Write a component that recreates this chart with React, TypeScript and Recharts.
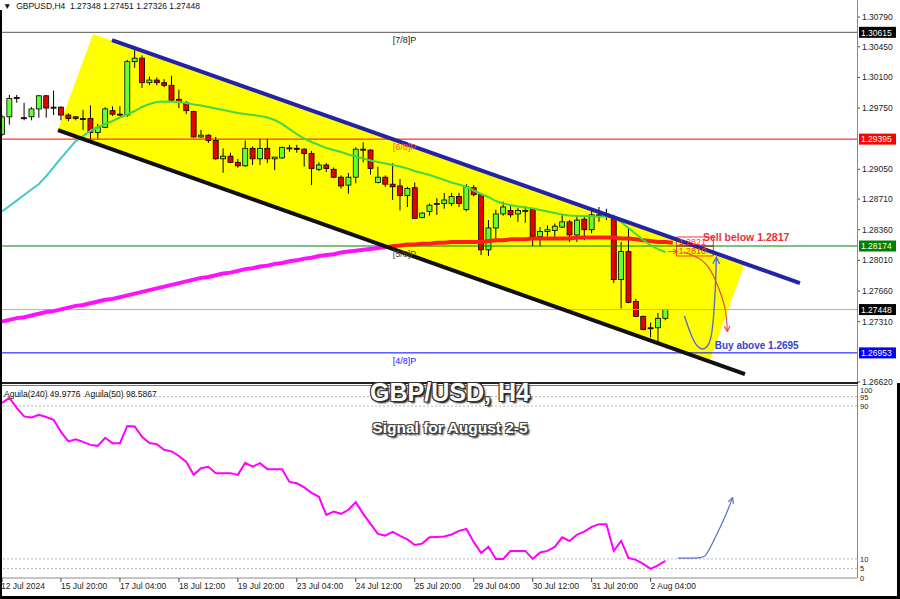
import React from "react";
import {
  Area,
  Bar,
  ComposedChart,
  Line,
  ReferenceArea,
  ReferenceDot,
  ReferenceLine,
  XAxis,
  YAxis,
} from "recharts";

// GBPUSD H4 bars, index 0 = 12 Jul 12:00 ... index 90 = 2 Aug 12:00
const opens = [
  1.2945, 1.2965, 1.2987, 1.2964, 1.2965, 1.2974, 1.2989, 1.2976, 1.2976, 1.2967,
  1.2965, 1.2963, 1.2963, 1.2947, 1.2953, 1.2972, 1.2968, 1.2967, 1.3028, 1.3032,
  1.3004, 1.3007, 1.3004, 1.3001, 1.2985, 1.2981, 1.2971, 1.2942, 1.2944, 1.2938,
  1.2917, 1.292, 1.2913, 1.2909, 1.2929, 1.2917, 1.2929, 1.2917, 1.2918, 1.2929,
  1.2929, 1.2928, 1.2923, 1.2905, 1.291, 1.2905, 1.2896, 1.2887, 1.2896, 1.2928,
  1.2927, 1.289, 1.2896, 1.2888, 1.2886, 1.2875, 1.2884, 1.285, 1.2857, 1.2866,
  1.2866, 1.2866, 1.2874, 1.2859, 1.2884, 1.2876, 1.2813, 1.2838, 1.2854, 1.2858,
  1.2854, 1.2858, 1.2859, 1.2828, 1.2834, 1.2835, 1.2839, 1.2845, 1.283, 1.2848,
  1.2836, 1.2853, 1.2853, 1.2849, 1.2779, 1.2811, 1.2754, 1.2737, 1.2724, 1.2724,
  1.27348,
];
const highs = [
  1.2967, 1.299, 1.299, 1.2981, 1.2976, 1.299, 1.299, 1.2995, 1.2977, 1.2969,
  1.2966, 1.2973, 1.2978, 1.2957, 1.2976, 1.2977, 1.2977, 1.303, 1.3041, 1.3035,
  1.3011, 1.301, 1.3008, 1.3012, 1.2996, 1.2983, 1.2972, 1.295, 1.2945, 1.2942,
  1.2929, 1.2924, 1.2917, 1.2938, 1.2931, 1.294, 1.294, 1.2919, 1.2931, 1.2933,
  1.2933, 1.2929, 1.2926, 1.2913, 1.2912, 1.2907, 1.2898, 1.2901, 1.293, 1.2936,
  1.2928, 1.2908, 1.2898, 1.2912, 1.2894, 1.2885, 1.289, 1.2856, 1.2866, 1.2872,
  1.2878, 1.2878, 1.2878, 1.2888, 1.2887, 1.2878, 1.2847, 1.2859, 1.2868, 1.2865,
  1.2861, 1.2863, 1.2861, 1.2839, 1.2841, 1.2843, 1.2853, 1.2847, 1.2853, 1.2851,
  1.286, 1.2862, 1.286, 1.2853, 1.2822, 1.2839, 1.2757, 1.2738, 1.273, 1.2741,
  1.27451,
];
const lows = [
  1.2943, 1.2956, 1.2981, 1.2961, 1.2961, 1.2964, 1.2964, 1.2967, 1.2961, 1.296,
  1.2961, 1.295, 1.2939, 1.294, 1.2952, 1.2966, 1.2966, 1.2965, 1.3021, 1.2998,
  1.3001, 1.3001, 1.2999, 1.2982, 1.2975, 1.2968, 1.2941, 1.2941, 1.2935, 1.2916,
  1.2901, 1.2912, 1.2907, 1.2908, 1.291, 1.291, 1.2912, 1.2904, 1.2917, 1.2925,
  1.2924, 1.2908, 1.2887, 1.2903, 1.2902, 1.2895, 1.2883, 1.2877, 1.2889, 1.2913,
  1.2899, 1.2889, 1.2885, 1.287, 1.2858, 1.2862, 1.2849, 1.2849, 1.2852, 1.2853,
  1.286, 1.2863, 1.2862, 1.2857, 1.2874, 1.2807, 1.2806, 1.2824, 1.2852, 1.285,
  1.2845, 1.2844, 1.2817, 1.2817, 1.2828, 1.2828, 1.2838, 1.2822, 1.2822, 1.2824,
  1.2832, 1.2845, 1.2847, 1.2775, 1.2746, 1.2752, 1.2737, 1.2721, 1.2713, 1.2708,
  1.27326,
];
const closes = [
  1.2965, 1.2986, 1.2986, 1.2963, 1.2974, 1.2989, 1.2975, 1.29755, 1.2967, 1.2963,
  1.2963, 1.2962, 1.2947, 1.2953, 1.2974, 1.2968, 1.29675, 1.3028, 1.3032, 1.3004,
  1.3007, 1.3004, 1.3001, 1.2984, 1.2982, 1.2972, 1.2942, 1.2944, 1.2938, 1.2917,
  1.292, 1.2913, 1.2909, 1.2929, 1.2917, 1.2929, 1.2917, 1.2919, 1.293, 1.29295,
  1.2928, 1.2923, 1.2906, 1.291, 1.2906, 1.2896, 1.2886, 1.2896, 1.2928, 1.2927,
  1.2906, 1.2896, 1.2888, 1.2885, 1.2875, 1.2883, 1.2849, 1.2855, 1.2864, 1.2866,
  1.287, 1.2874, 1.2866, 1.2885, 1.2876, 1.2813, 1.2838, 1.2854, 1.2862, 1.2853,
  1.2858, 1.2858, 1.2828, 1.2834, 1.2836, 1.284, 1.2845, 1.283, 1.2847, 1.2836,
  1.2853, 1.2852, 1.2854, 1.2779, 1.2811, 1.2753, 1.2737, 1.2722, 1.2723, 1.27348,
  1.27448,
];

// moving averages (bar index -> price)
const maCyan = [
  1.28568, 1.28631, 1.28693, 1.28756, 1.28819, 1.28882, 1.28973, 1.29076, 1.29179, 1.29276,
  1.29373, 1.2943, 1.29488, 1.29528,
];
const FAST_FROM = 12;
const maFast = [
  1.29488, 1.29528, 1.29568, 1.29602, 1.29642, 1.29676, 1.29716, 1.29762, 1.29796, 1.29819,
  1.29825, 1.29822, 1.29819, 1.29807, 1.2979, 1.29779, 1.29762, 1.29745, 1.29727, 1.2971,
  1.29693, 1.29682, 1.2967, 1.29659, 1.29642, 1.29613, 1.29568, 1.2951, 1.29453, 1.29402,
  1.29362, 1.29328, 1.29293, 1.2927, 1.29248, 1.29219, 1.29196, 1.29173, 1.2915, 1.29133,
  1.29116, 1.29099, 1.29082, 1.29059, 1.29031, 1.29008, 1.28985, 1.28956, 1.28928, 1.28899,
  1.28876, 1.28848, 1.28808, 1.28768, 1.28734, 1.28688, 1.28659, 1.28642, 1.28625, 1.28614,
  1.28602, 1.28585, 1.28568, 1.28551, 1.28534, 1.28522, 1.28517, 1.28517, 1.28513, 1.28511,
  1.28508, 1.28499, 1.28448, 1.28379, 1.28311, 1.28242, 1.28185, 1.28139, 1.28105,
];
const maSlow = [
  1.2731, 1.2733, 1.2735, 1.2736, 1.2738, 1.274, 1.2742, 1.2743, 1.2745, 1.2747,
  1.2749, 1.275, 1.2752, 1.2754, 1.2756, 1.2757, 1.2759, 1.2761, 1.2763, 1.2765,
  1.2767, 1.2769, 1.2771, 1.2773, 1.2775, 1.2777, 1.2779, 1.2781, 1.2782, 1.2784,
  1.2786, 1.2787, 1.2789, 1.2791, 1.2792, 1.2794, 1.2795, 1.2797, 1.2798, 1.28,
  1.2801, 1.2803, 1.2804, 1.2806, 1.2807, 1.2808, 1.281, 1.2811, 1.2812, 1.2813,
  1.2814, 1.2815, 1.2816,
];
const TAIL_FROM = 52;
const maTail = [
  1.2816, 1.2817, 1.2818, 1.2819, 1.2819, 1.282, 1.282, 1.2821, 1.2821, 1.2822,
  1.2822, 1.2822, 1.2822, 1.2822, 1.2823, 1.2824, 1.2824, 1.2825, 1.2825, 1.2825,
  1.2826, 1.2826, 1.2826, 1.2826, 1.2826, 1.2826, 1.2827, 1.2827, 1.2827, 1.2827,
  1.2827, 1.2827, 1.2826, 1.2826, 1.2825, 1.2824, 1.2823, 1.2822, 1.2822, 1.2821,
];

// Aguila oscillator (0..100)
const aguila = [
  91.7, 94.3, 89.1, 84.6, 84.1, 85.4, 84.3, 82.8, 76.5, 71.5,
  72.6, 71.3, 69.7, 69.2, 73.4, 70.6, 70.6, 79.6, 79.3, 73.9,
  70.7, 70.1, 67.1, 66.3, 63.9, 60.8, 54.0, 57.5, 58.2, 54.9,
  54.9, 54.9, 54.0, 60.3, 58.3, 60.1, 57.0, 57.0, 57.0, 50.3,
  49.6, 47.4, 44.6, 42.5, 33.0, 34.8, 33.6, 35.7, 39.7, 33.6,
  28.3, 23.1, 22.2, 24.1, 22.0, 20.2, 17.3, 18.0, 21.3, 21.5,
  21.7, 22.8, 24.7, 25.7, 18.9, 13.1, 16.4, 10.0, 10.0, 14.2,
  14.2, 14.2, 10.0, 13.4, 14.2, 16.3, 21.3, 19.4, 22.6, 24.3,
  26.8, 28.2, 28.2, 14.2, 19.4, 10.5, 9.5, 7.4, 4.8, 6.6,
  9.0,
];

// axes
const priceTicks = [1.3079, 1.3045, 1.301, 1.2975, 1.2905, 1.2871, 1.2836, 1.2801, 1.2766, 1.2731, 1.2662];
const levelPrices = [1.30615, 1.29395, 1.28174, 1.27448, 1.26953];
const levelTags = ["[7/8]P", "[6/8]P", "[5/8]P", "", "[4/8]P"];
const aguilaTicks = [0, 5, 10, 90, 95, 100];
const aguilaLevels = [95, 90, 10, 5];
const timeTicks = [0, 8, 16, 24, 32, 40, 48, 56, 64, 72, 80, 88];
const timeLabels = [
  "12 Jul 2024", "15 Jul 20:00", "17 Jul 04:00", "18 Jul 12:00", "19 Jul 20:00", "23 Jul 04:00",
  "24 Jul 12:00", "25 Jul 20:00", "29 Jul 04:00", "30 Jul 12:00", "31 Jul 20:00", "2 Aug 04:00",
];

// hand-drawn objects, as [bar index, price]
const upperChannel = [[14.92, 1.30527], [108.26, 1.27751]];
const lowerChannel = [[7.6, 1.29499], [100.8, 1.26711]];
const channelFill = [
  [7.6, 1.2951, 1.2951],
  [12.35, 1.29369, 1.30596],
  [96.05, 1.26871, 1.2812],
  [100.8, 1.27979, 1.27979],
];
const sellPath = [[92.44, 1.28105], [94.47, 1.28037], [96.1, 1.27899], [97.33, 1.27671], [98.14, 1.27443], [98.41, 1.27203]];
const buyPath = [[92.58, 1.27374], [93.4, 1.2718], [94.34, 1.27031], [95.43, 1.27008], [96.24, 1.27157], [96.65, 1.275], [96.85, 1.27842], [96.92, 1.28037]];
const pointer = [[90.35, 1.28111], [91.6, 1.28111]];
const aguilaArrow = [[91.7, 10.4], [94.35, 10.5], [95.5, 12.1], [96.5, 19.1], [98.0, 31.3], [99.1, 41.8]];

const X_DOMAIN: [number, number] = [0, 116];
const P_DOMAIN: [number, number] = [1.26609, 1.3095];
const FONT = "'Liberation Sans', Arial, sans-serif";
const LEVEL_LINE = ["#555555", "#ff0000", "#008000", "#a9b3bd", "#0000ff"];
const LEVEL_BG = ["#000000", "#ff0000", "#008000", "#000000", "#0000ff"];
const TAG_COLOR = ["#222222", "#ff5a3c", "#4a4a30", "", "#1a1aff"];

const rows = Array.from({ length: 92 }, (_, i) => ({
  i,
  range: i < opens.length ? [lows[i], highs[i]] : undefined,
  o: opens[i],
  c: closes[i],
  cyan: i < maCyan.length ? maCyan[i] : undefined,
  fast: i >= FAST_FROM && i - FAST_FROM < maFast.length ? maFast[i - FAST_FROM] : undefined,
  slow: i < maSlow.length ? maSlow[i] : undefined,
  tail: i >= TAIL_FROM ? maTail[i - TAIL_FROM] : undefined,
  ag: aguila[i],
}));

const pts = (list: number[][]) => list.map(([i, p]) => ({ i, p }));

function Candle(props: any) {
  const { x, y, width, height, payload } = props;
  if (!payload || !payload.range) return null;
  const [lo, hi] = payload.range;
  const cx = x + width / 2;
  const toY = (p: number) => y + ((hi - p) / (hi - lo || 1e-9)) * height;
  const up = payload.c >= payload.o;
  const top = toY(Math.max(payload.o, payload.c));
  const bot = toY(Math.min(payload.o, payload.c));
  return (
    <g>
      <line x1={cx} x2={cx} y1={y} y2={y + height} stroke="#000" strokeWidth={1} />
      <rect
        x={cx - 2.5}
        y={top}
        width={5}
        height={Math.max(bot - top, 1)}
        fill={up ? "#66ff33" : "#e80000"}
        stroke="#000"
        strokeWidth={0.8}
      />
    </g>
  );
}

function PriceTick(props: any) {
  const { x, y, payload } = props;
  const v = payload.value as number;
  const k = levelPrices.indexOf(v);
  if (k >= 0) {
    return (
      <g>
        <rect x={x + 2} y={y - 5.5} width={37} height={11} fill={LEVEL_BG[k]} />
        <text x={x + 4} y={y + 3.2} fill="#fff" fontSize={8.5} fontFamily={FONT}>
          {v.toFixed(5)}
        </text>
      </g>
    );
  }
  return (
    <g>
      <line x1={x} x2={x + 3} y1={y} y2={y} stroke="#444" />
      <text x={x + 5} y={y + 3} fill="#222" fontSize={8.5} fontFamily={FONT}>
        {v.toFixed(5)}
      </text>
    </g>
  );
}

function AguilaTick(props: any) {
  const { x, y, payload } = props;
  // MT4 keeps the 0 and 100 labels inside the sub-window
  const yy = Math.min(Math.max(y, 10), 197.5);
  return (
    <text x={x + 3} y={yy + 3} fill="#222" fontSize={7.5} fontFamily={FONT}>
      {payload.value}
    </text>
  );
}

function TimeTick(props: any) {
  const { x, y, payload } = props;
  const k = timeTicks.indexOf(payload.value);
  return (
    <g>
      <line x1={x} x2={x} y1={y} y2={y + 4} stroke="#444" />
      <text x={k === 0 ? x - 1 : x} y={y + 11} fill="#222" fontSize={8.5} fontFamily={FONT}>
        {timeLabels[k]}
      </text>
    </g>
  );
}

const textLabel =
  (text: string, color: string, size: number, weight: number, dy: number, anchor: "start" | "middle") =>
  (props: any) => {
    const vb = props.viewBox || {};
    return (
      <text
        x={vb.x}
        y={vb.y + dy}
        fill={color}
        fontSize={size}
        fontWeight={weight}
        fontFamily={FONT}
        textAnchor={anchor}
      >
        {text}
      </text>
    );
  };

export default function App() {
  return (
    <div
      style={{
        position: "absolute",
        left: 0,
        top: 0,
        width: 900,
        height: 599,
        background: "#fff",
        overflow: "hidden",
        fontFamily: FONT,
      }}
    >
      <svg width={0} height={0} style={{ position: "absolute" }}>
        <defs>
          <marker id="tipRed" viewBox="0 0 10 10" refX="8" refY="5" markerWidth="6" markerHeight="6" orient="auto">
            <path d="M1,1 L9,5 L1,9" fill="none" stroke="#f04848" strokeWidth="1.6" />
          </marker>
          <marker id="tipBlue" viewBox="0 0 10 10" refX="8" refY="5" markerWidth="6" markerHeight="6" orient="auto">
            <path d="M1,1 L9,5 L1,9" fill="none" stroke="#5b6cc8" strokeWidth="1.6" />
          </marker>
        </defs>
      </svg>

      {/* price panel */}
      <div style={{ position: "absolute", left: 0, top: 0 }}>
        <ComposedChart width={900} height={392} data={rows} margin={{ top: 3, right: 0, bottom: 9, left: 2 }}>
          <XAxis dataKey="i" type="number" domain={X_DOMAIN} allowDataOverflow hide />
          <YAxis
            orientation="right"
            type="number"
            domain={P_DOMAIN}
            allowDataOverflow
            ticks={[...priceTicks, ...levelPrices]}
            interval={0}
            tick={<PriceTick />}
            tickSize={0}
            tickMargin={0}
            tickLine={false}
            axisLine={false}
            width={43}
          />
          <Area
            data={channelFill.map(([i, lo, hi]) => ({ i, band: [lo, hi] }))}
            dataKey="band"
            type="linear"
            fill="#ffff00"
            fillOpacity={1}
            stroke="none"
            isAnimationActive={false}
          />
          {levelPrices.map((p, k) => (
            <ReferenceLine key={p} y={p} stroke={LEVEL_LINE[k]} strokeWidth={1} />
          ))}
          {levelPrices.map((p, k) =>
            levelTags[k] ? (
              <ReferenceDot
                key={"t" + p}
                x={54.6}
                y={p}
                r={0}
                stroke="none"
                fill="none"
                label={textLabel(levelTags[k], TAG_COLOR[k], 9, 400, 11, "middle")}
              />
            ) : null,
          )}
          <Line dataKey="cyan" stroke="#40c8cc" strokeWidth={2} dot={false} isAnimationActive={false} />
          <Line dataKey="slow" stroke="#ff10ff" strokeWidth={4} dot={false} isAnimationActive={false} />
          <Line dataKey="tail" stroke="#ff1e1e" strokeWidth={4} dot={false} isAnimationActive={false} />
          <Line dataKey="fast" stroke="#44d844" strokeWidth={2} dot={false} isAnimationActive={false} />
          <Bar dataKey="range" barSize={5} shape={<Candle />} isAnimationActive={false} />
          <ReferenceLine
            segment={lowerChannel.map(([x, y]) => ({ x, y }))}
            stroke="#111"
            strokeWidth={4}
          />
          <ReferenceLine
            segment={upperChannel.map(([x, y]) => ({ x, y }))}
            stroke="#2323a8"
            strokeWidth={4}
          />
          <ReferenceArea x1={91.5} x2={96.5} y1={1.28174} y2={1.28277} fill="none" stroke="#ff3030" strokeWidth={1}
            label={{ value: "1.2821", position: "insideLeft", fill: "#ff3030", fontSize: 9, fontFamily: FONT, offset: 2 }} />
          <ReferenceArea x1={91.5} x2={96.5} y1={1.2806} y2={1.28174} fill="none" stroke="#ff3030" strokeWidth={1}
            label={{ value: "1.2810", position: "insideLeft", fill: "#ff3030", fontSize: 9, fontFamily: FONT, offset: 2 }} />
          <Line data={pts(pointer)} dataKey="p" stroke="#f04848" strokeWidth={1} dot={false} markerEnd="url(#tipRed)" isAnimationActive={false} />
          <Line data={pts(sellPath)} dataKey="p" type="natural" stroke="#f04848" strokeWidth={1.2} dot={false} markerEnd="url(#tipRed)" isAnimationActive={false} />
          <Line data={pts(buyPath)} dataKey="p" type="natural" stroke="#5b6cc8" strokeWidth={1.4} dot={false} markerEnd="url(#tipBlue)" isAnimationActive={false} />
          <ReferenceDot x={95.1} y={1.28231} r={0} stroke="none" fill="none"
            label={textLabel("Sell below 1.2817", "#e8303a", 10.5, 700, 0, "start")} />
          <ReferenceDot x={96.7} y={1.26997} r={0} stroke="none" fill="none"
            label={textLabel("Buy above 1.2695", "#3344cc", 10, 700, 0, "start")} />
        </ComposedChart>
      </div>

      {/* oscillator panel */}
      <div style={{ position: "absolute", left: 0, top: 380 }}>
        <ComposedChart width={900} height={219} data={rows} margin={{ top: 7, right: 0, bottom: 3, left: 2 }}>
          <XAxis
            dataKey="i"
            type="number"
            domain={X_DOMAIN}
            allowDataOverflow
            ticks={timeTicks}
            interval={0}
            tick={<TimeTick />}
            tickSize={0}
            tickMargin={0}
            tickLine={false}
            axisLine={{ stroke: "#8a8a8a" }}
            height={18}
          />
          <YAxis
            orientation="right"
            type="number"
            domain={[0, 100]}
            allowDataOverflow
            ticks={aguilaTicks}
            interval={0}
            tick={<AguilaTick />}
            tickSize={0}
            tickMargin={0}
            tickLine={false}
            axisLine={false}
            width={43}
          />
          {aguilaLevels.map((v) => (
            <ReferenceLine key={v} y={v} stroke="#b8b8b8" strokeDasharray="2 2" />
          ))}
          <Line dataKey="ag" stroke="#ff00ff" strokeWidth={2} dot={false} isAnimationActive={false} />
          <Line data={pts(aguilaArrow)} dataKey="p" type="natural" stroke="#5b6cc8" strokeWidth={1.2} dot={false} markerEnd="url(#tipBlue)" isAnimationActive={false} />
        </ComposedChart>
      </div>

      {/* frame and separators */}
      <div style={{ position: "absolute", left: 857, top: 0, width: 1, height: 578, background: "#8a8a8a" }} />
      <div style={{ position: "absolute", left: 0, top: 382, width: 858, height: 2, background: "#222" }} />
      <div style={{ position: "absolute", left: 0, top: 385, width: 858, height: 1, background: "#777" }} />
      <div style={{ position: "absolute", left: 0, top: 10, width: 2, height: 589, background: "#000" }} />
      <div style={{ position: "absolute", left: 897, top: 383, width: 3, height: 216, background: "#000" }} />
      <div style={{ position: "absolute", left: 0, top: 596, width: 900, height: 3, background: "#000" }} />

      {/* texts */}
      <div style={{ position: "absolute", left: 3, top: 1, fontSize: 8.5, color: "#111", whiteSpace: "pre" }}>
        {"\u25BC  GBPUSD,H4  1.27348 1.27451 1.27326 1.27448"}
      </div>
      <div style={{ position: "absolute", left: 4, top: 389, fontSize: 8.5, color: "#111", whiteSpace: "pre" }}>
        {"Aguila(240) 49.9776  Aguila(50) 98.5867"}
      </div>
      <div
        style={{
          position: "absolute",
          left: 300,
          width: 300,
          top: 378,
          textAlign: "center",
          fontSize: 25,
          fontWeight: 700,
          color: "#fff",
          textShadow:
            "-1px -1px 0 #333, 1px -1px 0 #333, -1px 1px 0 #333, 1px 1px 0 #333, 2px 2px 2px #000",
        }}
      >
        GBP/USD, H4
      </div>
      <div
        style={{
          position: "absolute",
          left: 300,
          width: 300,
          top: 419,
          textAlign: "center",
          fontSize: 15.5,
          fontWeight: 700,
          color: "#fff",
          textShadow:
            "-1px -1px 0 #444, 1px -1px 0 #444, -1px 1px 0 #444, 1px 1px 0 #444, 2px 2px 2px #000",
        }}
      >
        Signal for August 2-5
      </div>
    </div>
  );
}
